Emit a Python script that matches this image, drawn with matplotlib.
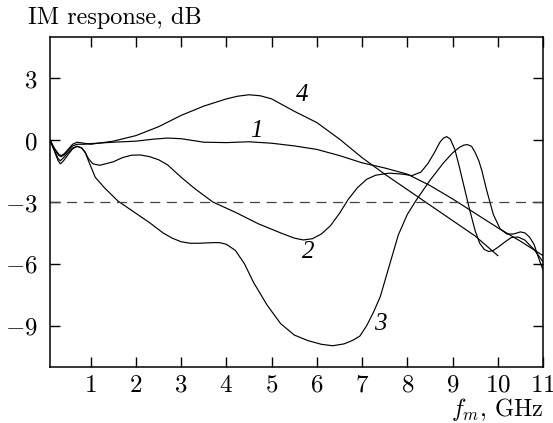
import matplotlib
matplotlib.use("Agg")
import matplotlib.pyplot as plt

plt.rcParams['mathtext.fontset'] = 'cm'
plt.rcParams['font.family'] = ['DejaVu Serif']

# Curve 1
x1 = [0.1, 0.2, 0.3, 0.35, 0.42, 0.5, 0.6, 0.7, 0.85, 1.0, 1.5, 2.0, 2.4, 2.7, 3.0, 3.5, 4.0, 4.5,
      5.0, 5.5, 6.0, 6.5, 7.0, 7.5, 8.0, 8.5, 9.0, 9.5, 10.0, 10.5, 11.0]
y1 = [0, -0.45, -0.75, -0.8, -0.7, -0.5, -0.28, -0.2, -0.2, -0.17, -0.1, -0.05, 0.05, 0.1, 0.07, -0.1, -0.12, -0.08,
      -0.15, -0.28, -0.45, -0.75, -1.1, -1.35, -1.65, -2.2, -2.85, -3.55, -4.25, -4.9, -5.6]

# Curve 2
x2 = [0.1, 0.2, 0.28, 0.33, 0.4, 0.5, 0.6, 0.7, 0.8, 0.88, 0.95, 1.05, 1.2, 1.5, 1.7, 1.9, 2.1, 2.3, 2.5,
      2.7, 3.0, 3.3, 3.7, 4.2, 4.7, 5.2, 5.5, 5.7, 5.9, 6.1, 6.3, 6.5, 6.7, 6.9, 7.1, 7.3, 7.6, 7.9, 8.1, 8.3,
      8.45, 8.6, 8.72, 8.8, 8.87, 8.95, 9.05, 9.15, 9.27, 9.38, 9.5, 9.6, 9.7, 9.8, 9.9, 10.0, 10.15,
      10.3, 10.45, 10.6, 10.8, 11.0]
y2 = [0, -0.5, -0.9, -1.0, -0.85, -0.6, -0.38, -0.3, -0.38, -0.6, -0.9, -1.15, -1.22, -1.05, -0.85, -0.73, -0.72, -0.8, -0.95,
      -1.2, -1.8, -2.35, -3.0, -3.5, -4.05, -4.5, -4.75, -4.84, -4.78, -4.55, -4.15, -3.55, -2.85, -2.3, -1.9, -1.7, -1.6, -1.65, -1.72, -1.55,
      -1.15, -0.6, -0.1, 0.1, 0.17, 0.05, -0.45, -1.3, -2.4, -3.4, -4.4, -5.0, -5.3, -5.4, -5.35, -5.2, -4.95,
      -4.72, -4.7, -4.85, -5.3, -5.9]

# Curve 3
x3 = [0.1, 0.2, 0.28, 0.33, 0.4, 0.5, 0.6, 0.7, 0.8, 0.88, 0.95, 1.1, 1.3, 1.6, 2.0, 2.3, 2.6, 2.8, 3.0,
      3.2, 3.4, 3.7, 3.85, 4.0, 4.2, 4.4, 4.6, 4.9, 5.2, 5.5, 5.8, 6.1, 6.35, 6.6, 6.8, 6.95, 7.1, 7.25,
      7.4, 7.6, 7.8, 8.0, 8.2, 8.5, 8.8, 9.0, 9.15, 9.25, 9.33, 9.42, 9.5, 9.58, 9.65, 9.75, 9.9, 10.05,
      10.2, 10.35, 10.5, 10.6, 10.7, 10.8, 10.9, 11.0]
y3 = [0, -0.55, -1.0, -1.15, -1.0, -0.7, -0.42, -0.3, -0.38, -0.6, -1.0, -1.8, -2.3, -2.95, -3.55, -4.0, -4.5, -4.75, -4.93,
      -5.0, -5.0, -4.97, -4.97, -5.05, -5.35, -6.0, -6.9, -8.0, -8.9, -9.45, -9.72, -9.9, -9.97, -9.88, -9.7, -9.5, -9.0, -8.35,
      -7.6, -6.1, -4.6, -3.6, -2.9, -1.95, -1.1, -0.62, -0.35, -0.24, -0.22, -0.3, -0.6, -1.0, -1.5, -2.4, -3.6, -4.3,
      -4.55, -4.55, -4.45, -4.5, -4.7, -5.05, -5.7, -6.3]

# Curve 4
x4 = [0.1, 0.2, 0.3, 0.35, 0.42, 0.5, 0.6, 0.7, 0.85, 1.0, 1.5, 2.0, 2.5, 3.0, 3.5, 4.0, 4.25, 4.5, 4.75,
      5.0, 5.5, 6.0, 6.5, 7.0, 7.5, 8.0, 8.5, 9.0, 9.5, 10.0]
y4 = [0, -0.4, -0.7, -0.75, -0.65, -0.45, -0.2, -0.1, -0.15, -0.2, -0.05, 0.22, 0.65, 1.2, 1.65, 2.0, 2.13, 2.2, 2.15,
      2.0, 1.4, 0.85, 0.05, -0.85, -1.65, -2.4, -3.15, -3.9, -4.65, -5.6]

curves = [(x1, y1), (x2, y2), (x3, y3), (x4, y4)]
curve_labels = ['1', '2', '3', '4']
label_pos = [(4.67, 0.42), (5.8, -5.4), (7.4, -8.9), (5.67, 2.2)]

threshold = -3
xticks = list(range(1, 12))
yticks = [3, 0, -3, -6, -9]
ytick_labels = [r'$3$', r'$0$', r'$-3$', r'$-6$', r'$-9$']

fig = plt.figure(figsize=(5.53, 4.23), dpi=100)
ax = fig.add_axes([0.0904, 0.1324, 0.8916, 0.7801])

for (xs, ys) in curves:
    ax.plot(xs, ys, color='black', lw=0.85, solid_joinstyle='round')

ax.axhline(threshold, color='#444444', lw=0.9, linestyle=(0, (8, 5.3)))

for lab, (lx, ly) in zip(curve_labels, label_pos):
    ax.text(lx, ly, lab, fontsize=18, ha='center', va='center',
            family='Liberation Serif', style='italic')

ax.set_xlim(0.1, 11)
ax.set_ylim(-11, 5)
ax.set_xticks(xticks)
ax.set_xticklabels([r'$%d$' % t for t in xticks])
ax.set_yticks(yticks)
ax.set_yticklabels(ytick_labels)
ax.tick_params(direction='in', length=7, width=1, top=True, right=True,
               labelsize=18, pad=5)
ax.tick_params(axis='y', pad=9)
for s in ax.spines.values():
    s.set_linewidth(1.1)

fig.text(0.05, 0.957, 'IM response, dB', fontsize=17.5, ha='left', va='center',
         family='cmr10')
fig.text(0.982, 0.016, r'$f_m$, GHz', fontsize=17.5, ha='right', va='baseline',
         family='cmr10')

fig.savefig('out.png', dpi=100)
